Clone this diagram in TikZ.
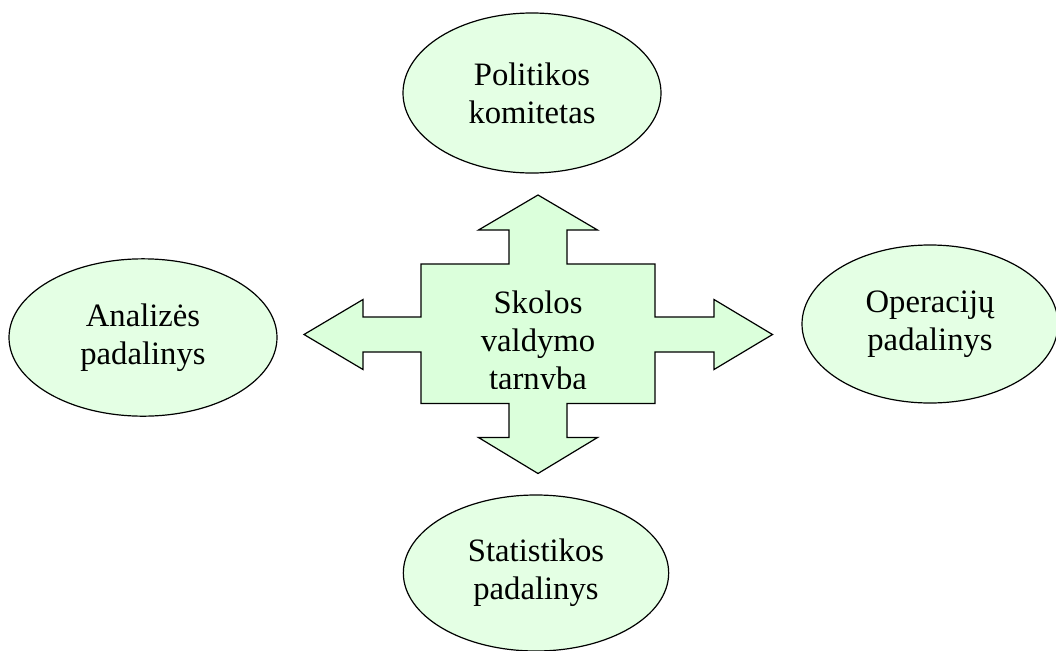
\documentclass[tikz,border=0pt]{standalone}
\usepackage{fontspec}
\setmainfont{Liberation Serif}
\usetikzlibrary{shapes.geometric}

\definecolor{kryzius}{RGB}{219,255,219}
\definecolor{elipse}{RGB}{228,255,228}

\tikzset{
    padalinys/.style={ellipse, draw, line width=0.9pt, fill=elipse, inner sep=0pt,
        align=center, font=\fontsize{24.5}{28.5}\selectfont},
    tekstas/.style={inner sep=0pt, align=center, font=\fontsize{24.5}{28.5}\selectfont}
}

\begin{document}
\begin{tikzpicture}[x=0.75pt,y=0.75pt,yscale=-1,xscale=1]
    \useasboundingbox (0,0) rectangle (1056,650);

    %Shape: Cross with four arrows
    \draw [line width=0.9pt, fill=kryzius] (538,195) -- (597.5,230) -- (567,230) -- (567,264) -- (655,264) -- (655,317) -- (714,317) -- (714,299.5) -- (772.5,334.5) -- (714,369.5) -- (714,352) -- (655,352) -- (655,403.5) -- (567,403.5) -- (567,437.5) -- (597.5,437.5) -- (538,473.5) -- (478.5,437.5) -- (509,437.5) -- (509,403.5) -- (421,403.5) -- (421,352) -- (363,352) -- (363,369.5) -- (304,334.5) -- (363,299.5) -- (363,317) -- (421,317) -- (421,264) -- (509,264) -- (509,230) -- (478.5,230) -- cycle ;

    % Text Node (cut at the bottom as in the box)
    \begin{scope}
        \clip (421,264) rectangle (655,388.5);
        \node [tekstas] (tarnyba) at (538,343.5) {Skolos\\valdymo\\tarnyba};
    \end{scope}

    %Shape: Ellipses
    \node [padalinys, minimum width=193.5pt, minimum height=120pt] (politika) at (532,93) {Politikos\\komitetas};
    \node [padalinys, minimum width=201pt, minimum height=118pt] (analize) at (143,337.5) {Analizės\\padalinys};
    \node [padalinys, minimum width=192pt, minimum height=118.5pt] (operacijos) at (930,324) {Operacijų\\padalinys};
    \node [padalinys, minimum width=199pt, minimum height=117pt] (statistika) at (536,573) {Statistikos\\padalinys};
\end{tikzpicture}
\end{document}
